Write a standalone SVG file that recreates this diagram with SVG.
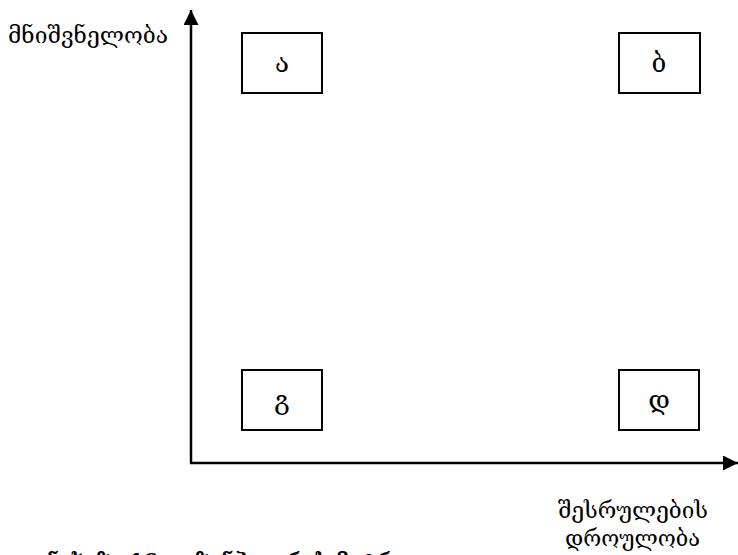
<svg xmlns="http://www.w3.org/2000/svg" width="738" height="555" viewBox="0 0 738 555">
  <style>
    .t { font-family: "DejaVu Serif", "Liberation Serif", serif; fill: #000; }
    .lbl { font-size: 22px; }
    .box rect { fill: #fff; stroke: #000; stroke-width: 2; }
    .box text { font-size: 26px; text-anchor: middle; }
    .axis { stroke: #000; stroke-width: 2.5; fill: none; }
    .cap { font-size: 20px; font-weight: bold; }
  </style>
  <defs>
    <marker id="arrow" viewBox="0 0 10 10" refX="10" refY="5" markerWidth="6" markerHeight="6" orient="auto" markerUnits="strokeWidth">
      <path d="M0,0 L10,5 L0,10 Z" fill="#000"/>
    </marker>
  </defs>

  <rect width="738" height="555" fill="#fff"/>

  <!-- axes -->
  <g id="connectors">
    <path class="axis" d="M191,463 L191,10" marker-end="url(#arrow)"/>
    <path class="axis" d="M190,463 L738,463" marker-end="url(#arrow)"/>
  </g>

  <!-- axis labels -->
  <text class="t lbl" x="8" y="43" textLength="160" lengthAdjust="spacingAndGlyphs">მნიშვნელობა</text>
  <text class="t lbl" x="558" y="518" textLength="150" lengthAdjust="spacingAndGlyphs">შესრულების</text>
  <text class="t lbl" x="565" y="546" textLength="135" lengthAdjust="spacingAndGlyphs">დროულობა</text>

  <!-- quadrants -->
  <g id="node-a" class="box">
    <rect x="242" y="33" width="80" height="60"/>
    <text class="t" x="282" y="72">ა</text>
  </g>
  <g id="node-b" class="box">
    <rect x="619" y="33" width="81" height="60"/>
    <text class="t" x="659" y="72">ბ</text>
  </g>
  <g id="node-g" class="box">
    <rect x="242" y="370" width="80" height="60"/>
    <text class="t" x="282" y="409">გ</text>
  </g>
  <g id="node-d" class="box">
    <rect x="619" y="370" width="80" height="60"/>
    <text class="t" x="659" y="409">დ</text>
  </g>

  <!-- caption -->
  <text class="t cap" x="47" y="568">ნახაზი 16. ეიზენჰაუერის მატრიცა</text>
</svg>
